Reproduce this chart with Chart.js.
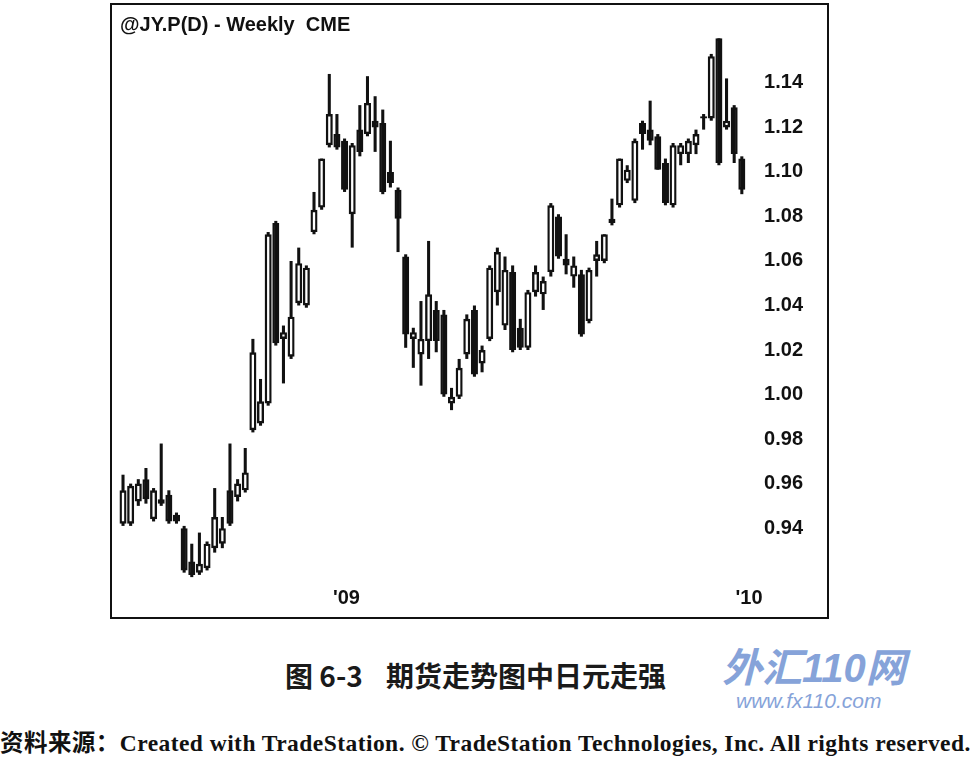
<!DOCTYPE html>
<html>
<head>
<meta charset="utf-8">
<title>@JY.P(D) - Weekly CME</title>
<script src="https://cdn.jsdelivr.net/npm/chart.js@4.4.1/dist/chart.umd.min.js"></script>
<style>
  body { margin: 0; background: #fff; width: 973px; height: 762px; overflow: hidden; position: relative; }
  #frame { position: absolute; left: 110px; top: 3px; width: 719px; height: 616px; border: 2px solid #111; box-sizing: border-box; }
  #frame .inner { position: relative; width: 100%; height: 100%; }
  .cap { position: absolute; font-family: "Noto Sans CJK SC", sans-serif; font-weight: bold; font-size: 28px; color: #1a1a1a; white-space: pre; line-height: 1; }
  .logo { position: absolute; font-family: "Liberation Sans", Arial, sans-serif; font-style: italic; font-weight: bold; color: #86a3d9; white-space: pre; line-height: 1; }
  #source { position: absolute; left: 0; top: 732px; font-family: "Liberation Serif", "Noto Sans CJK SC", serif; font-weight: bold; font-size: 23.5px; letter-spacing: 0.45px; color: #111; white-space: pre; line-height: 1; }
</style>
</head>
<body>
<div id="frame"><div class="inner"><canvas id="jyChart"></canvas></div></div>
<div class="cap" style="left:285px; top:661px;">图 6-3</div>
<div class="cap" style="left:386px; top:661px;">期货走势图中日元走强</div>
<div class="logo" style="left:722px; top:645px; font-size:40px;"><span style="font-family:'Noto Sans CJK SC';">外汇</span>110<span style="font-family:'Noto Sans CJK SC';">网</span></div>
<div class="logo" style="left:736px; top:690px; font-size:21px; font-weight:normal;">www.fx110.com</div>
<div id="source">资料来源：Created with TradeStation. © TradeStation Technologies, Inc. All rights reserved.</div>

<script>
// Weekly OHLC (JY continuous, mid 2008 to end 2009)
const opens = [
    0.942, 0.942, 0.952, 0.962, 0.944, 0.953, 0.955, 0.946, 0.940, 0.925,
    0.920, 0.922, 0.931, 0.933, 0.957, 0.954, 0.957, 0.984, 0.987, 0.996,
    1.077, 1.025, 1.017, 1.041, 1.040, 1.073, 1.084, 1.112, 1.117, 1.114,
    1.081, 1.119, 1.117, 1.123, 1.122, 1.100, 1.092, 1.062, 1.025, 1.018,
    1.024, 1.038, 1.036, 0.996, 0.999, 1.018, 1.038, 1.014, 1.025, 1.046,
    1.031, 1.055, 1.030, 1.021, 1.046, 1.045, 1.055, 1.080, 1.061, 1.053,
    1.054, 1.033, 1.060, 1.060, 1.079, 1.085, 1.096, 1.087, 1.122, 1.119,
    1.116, 1.104, 1.085, 1.108, 1.108, 1.112, 1.124, 1.124, 1.160, 1.120,
    1.129, 1.106
];
const highs = [
    0.964, 0.960, 0.962, 0.967, 0.958, 0.978, 0.957, 0.947, 0.941, 0.933,
    0.938, 0.934, 0.958, 0.945, 0.978, 0.962, 0.976, 1.025, 1.007, 1.073,
    1.078, 1.031, 1.060, 1.066, 1.058, 1.091, 1.106, 1.144, 1.126, 1.115,
    1.113, 1.130, 1.143, 1.134, 1.128, 1.114, 1.093, 1.063, 1.030, 1.042,
    1.069, 1.042, 1.038, 1.003, 1.016, 1.036, 1.040, 1.022, 1.058, 1.066,
    1.062, 1.058, 1.034, 1.047, 1.058, 1.053, 1.086, 1.081, 1.072, 1.062,
    1.056, 1.057, 1.069, 1.072, 1.088, 1.106, 1.103, 1.115, 1.123, 1.132,
    1.117, 1.106, 1.113, 1.113, 1.115, 1.119, 1.126, 1.153, 1.160, 1.142,
    1.130, 1.107
];
const lows = [
    0.941, 0.941, 0.950, 0.951, 0.943, 0.950, 0.942, 0.942, 0.920, 0.918,
    0.919, 0.921, 0.929, 0.931, 0.941, 0.952, 0.956, 0.983, 0.986, 0.995,
    1.022, 1.005, 1.016, 1.040, 1.039, 1.072, 1.083, 1.111, 1.110, 1.091,
    1.066, 1.107, 1.116, 1.109, 1.090, 1.093, 1.064, 1.021, 1.012, 1.004,
    1.016, 1.019, 0.999, 0.993, 0.998, 1.016, 1.008, 1.010, 1.024, 1.040,
    1.029, 1.019, 1.020, 1.020, 1.044, 1.038, 1.053, 1.061, 1.054, 1.048,
    1.026, 1.032, 1.053, 1.059, 1.076, 1.084, 1.095, 1.086, 1.110, 1.112,
    1.101, 1.085, 1.084, 1.103, 1.104, 1.108, 1.119, 1.123, 1.103, 1.119,
    1.104, 1.090
];
const closes = [
    0.957, 0.959, 0.960, 0.953, 0.957, 0.951, 0.943, 0.943, 0.921, 0.919,
    0.924, 0.933, 0.945, 0.940, 0.942, 0.960, 0.965, 1.019, 0.997, 1.072,
    1.023, 1.028, 1.035, 1.059, 1.057, 1.083, 1.106, 1.126, 1.111, 1.092,
    1.112, 1.109, 1.131, 1.120, 1.091, 1.095, 1.079, 1.027, 1.028, 1.025,
    1.045, 1.024, 1.000, 0.999, 1.012, 1.034, 1.009, 1.020, 1.057, 1.064,
    1.056, 1.020, 1.021, 1.046, 1.055, 1.051, 1.085, 1.062, 1.058, 1.058,
    1.027, 1.056, 1.063, 1.072, 1.077, 1.106, 1.101, 1.114, 1.117, 1.114,
    1.101, 1.086, 1.112, 1.112, 1.114, 1.117, 1.125, 1.152, 1.104, 1.123,
    1.108, 1.092
];

// year marks (week index where the label sits) and price ticks
const xTickIndex = [29.25, 81.95];
const xTickLabels = ["'09", "'10"];
const yTickValues = [0.94, 0.96, 0.98, 1.00, 1.02, 1.04, 1.06, 1.08, 1.10, 1.12, 1.14];

const xMin = -0.395, xMax = 82.08;
const yMin = 0.9185, yMax = 1.1606;

const ink = '#111111';
const labelFont = { family: "'Liberation Sans', Arial, sans-serif", size: 20, weight: 'bold' };

const weeks = opens.map((_, i) => i);
const bodies = weeks.map(i => ({ x: i, y: [opens[i], closes[i]] }));
const wicks = weeks.map(i => ({ x: i, y: [lows[i], highs[i]] }));
// hollow candle when the week closed up, solid when it closed down
const bodyColors = weeks.map(i => closes[i] >= opens[i] ? '#ffffff' : ink);

const ctx = document.getElementById('jyChart').getContext('2d');
const jyChart = new Chart(ctx, {
    type: 'bar',
    data: {
        datasets: [
            {
                label: 'Open/Close',
                data: bodies,
                backgroundColor: bodyColors,
                borderColor: ink,
                borderWidth: 2.4,
                borderSkipped: false,
                grouped: false,
                clip: false,
                order: 1,
                categoryPercentage: 1.0,
                barPercentage: 0.92
            },
            {
                label: 'High/Low',
                data: wicks,
                backgroundColor: ink,
                borderWidth: 0,
                grouped: false,
                clip: false,
                order: 2,
                categoryPercentage: 1.0,
                barPercentage: 0.4
            }
        ]
    },
    options: {
        responsive: true,
        maintainAspectRatio: false,
        animation: false,
        layout: {
            padding: { left: 8, right: 18, top: 0, bottom: 5 }
        },
        plugins: {
            legend: { display: false },
            tooltip: { enabled: false },
            title: {
                display: true,
                text: '@JY.P(D) - Weekly  CME',
                align: 'start',
                color: ink,
                font: { family: "'Liberation Sans', Arial, sans-serif", size: 20, weight: 'bold' },
                padding: { top: 8, bottom: 0 }
            }
        },
        scales: {
            x: {
                type: 'linear',
                offset: false,   // bar charts turn this on by default, which squeezes a linear axis
                min: xMin,
                max: xMax,
                grid: { display: false },
                border: { display: false },
                afterBuildTicks: scale => {
                    scale.ticks = xTickIndex.map(v => ({ value: v }));
                },
                ticks: {
                    callback: (value, index) => xTickLabels[index],
                    color: ink,
                    font: labelFont,
                    padding: 2,
                    maxRotation: 0,
                    autoSkip: false
                }
            },
            y: {
                position: 'right',
                min: yMin,
                max: yMax,
                grid: { display: false },
                border: { display: false },
                afterBuildTicks: scale => {
                    scale.ticks = yTickValues.map(v => ({ value: v }));
                },
                ticks: {
                    callback: value => value.toFixed(2),
                    color: ink,
                    font: labelFont,
                    padding: 6
                }
            }
        }
    }
});
</script>
</body>
</html>
